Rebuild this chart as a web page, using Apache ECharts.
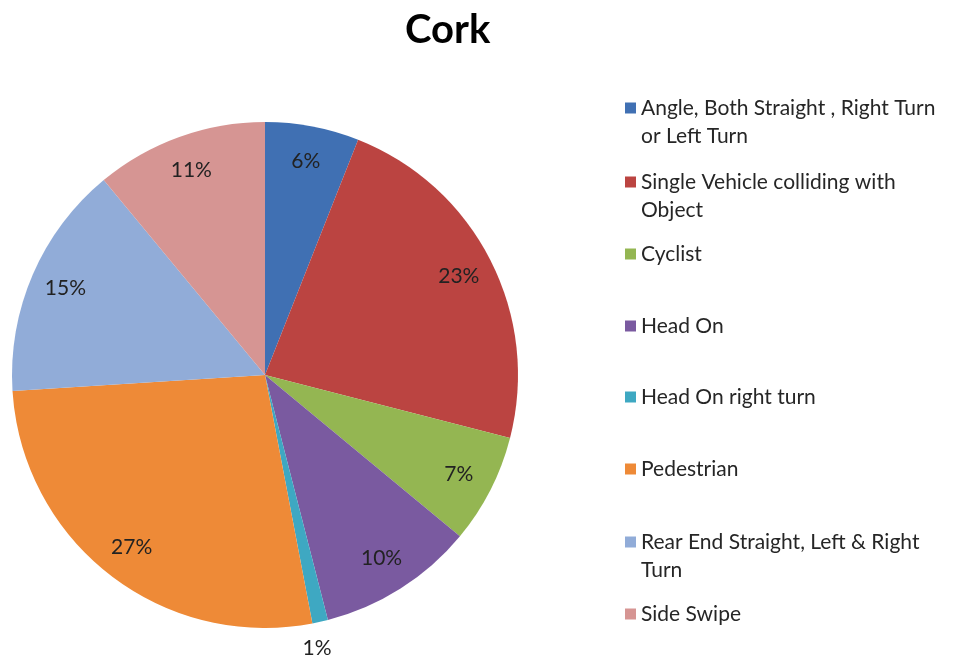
<!DOCTYPE html>
<html>
<head>
<meta charset="utf-8">
<script src="https://cdn.jsdelivr.net/npm/echarts@6/dist/echarts.min.js"></script>
<style>html,body{margin:0;padding:0;background:#fff;}#c{width:957px;height:660px;}</style>
</head>
<body>
<div id="c"></div>
<script>
var categories = [
  "Angle, Both Straight , Right Turn or Left Turn",
  "Single Vehicle colliding with Object",
  "Cyclist",
  "Head On",
  "Head On right turn",
  "Pedestrian",
  "Rear End Straight, Left & Right Turn",
  "Side Swipe"
];
var legendLabels = [
  "Angle, Both Straight , Right Turn\nor Left Turn",
  "Single Vehicle colliding with\nObject",
  "Cyclist",
  "Head On",
  "Head On right turn",
  "Pedestrian",
  "Rear End Straight, Left & Right\nTurn",
  "Side Swipe"
];
var values = [6, 23, 7, 10, 1, 27, 15, 11];
var colors = ["#4070b3", "#bb4441", "#94b652", "#7a5aa0", "#3ea8c2", "#ee8a37", "#91acd8", "#d69593"];
// vertical centre of each legend entry's first text line
var legendLineCentres = [108, 182, 254, 326, 397, 469, 542, 614];

var FONT = "Lato";
var LH = 28;
var chart = echarts.init(document.getElementById('c'), null, {renderer: 'canvas'});

var legends = categories.map(function (name, i) {
  var multi = legendLabels[i].indexOf('\n') >= 0;
  // multi-line entries get a blank first line so the icon lines up with the first text line
  var label = multi ? '\n' + legendLabels[i] : legendLabels[i];
  return {
    data: [name],
    orient: 'vertical',
    left: 625,
    top: legendLineCentres[i] - LH / 2 - (multi ? LH : 0),
    padding: 0,
    icon: 'rect',
    itemWidth: 11,
    itemHeight: 11,
    itemGap: 0,
    selectedMode: false,
    formatter: function () { return label; },
    textStyle: {fontFamily: FONT, fontSize: 21, color: '#262626', lineHeight: LH}
  };
});

var mainData = categories.map(function (n, i) {
  return {name: n, value: values[i], itemStyle: {color: colors[i]}};
});
var innerLabelData = categories.map(function (n, i) {
  return {name: n, value: values[i], label: {show: values[i] > 2}};
});
var outerLabelData = categories.map(function (n, i) {
  return {name: n, value: values[i], label: {show: values[i] <= 2, offset: [-9, 0]}};
});

var labelCommon = {
  position: 'inside',
  formatter: '{c}%',
  fontFamily: FONT,
  fontSize: 21,
  color: '#222'
};

chart.setOption({
  animation: false,
  backgroundColor: '#fff',
  title: {
    text: 'Cork',
    left: 405,
    top: 10,
    padding: 0,
    textStyle: {fontFamily: FONT, fontSize: 40, fontWeight: 'bold', color: '#000'}
  },
  legend: legends,
  series: [
    {
      type: 'pie',
      center: [265, 375],
      radius: [0, 253],
      startAngle: 90,
      clockwise: true,
      silent: true,
      label: {show: false},
      labelLine: {show: false},
      itemStyle: {borderWidth: 0},
      data: mainData
    },
    {
      type: 'pie',
      center: [265, 375],
      radius: [176, 253],
      startAngle: 90,
      clockwise: true,
      silent: true,
      itemStyle: {color: 'rgba(0,0,0,0)', borderWidth: 0},
      label: labelCommon,
      labelLine: {show: false},
      data: innerLabelData
    },
    {
      type: 'pie',
      center: [265, 375],
      radius: [253, 301],
      startAngle: 90,
      clockwise: true,
      silent: true,
      itemStyle: {color: 'rgba(0,0,0,0)', borderWidth: 0},
      label: labelCommon,
      labelLine: {show: false},
      data: outerLabelData
    }
  ]
});
</script>
</body>
</html>
